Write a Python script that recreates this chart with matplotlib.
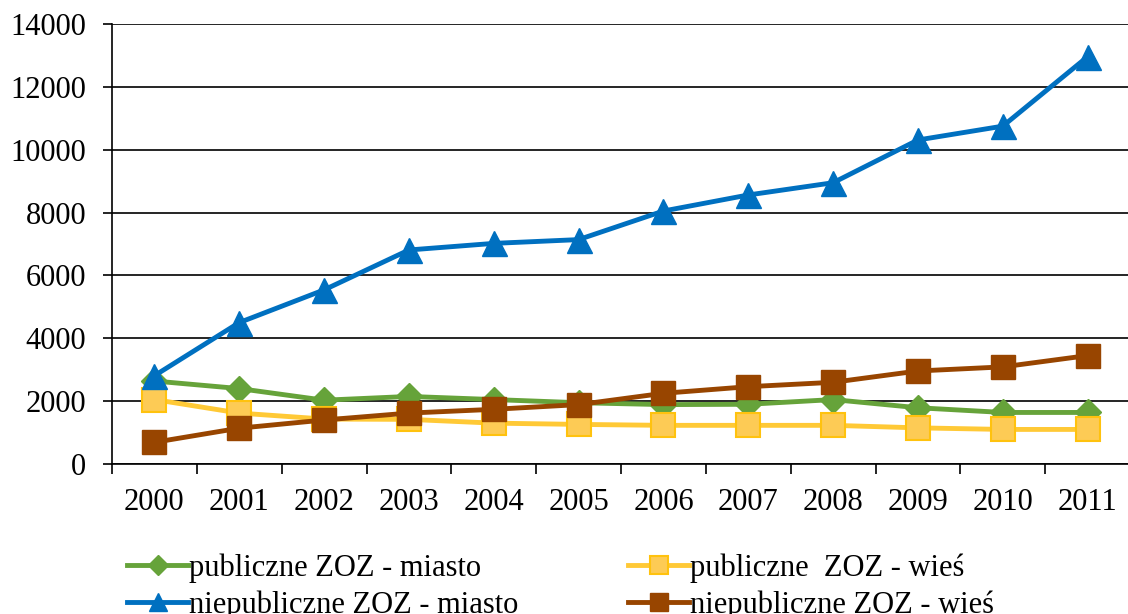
import matplotlib
matplotlib.use("Agg")
import matplotlib.pyplot as plt

# dane
years = ["2000", "2001", "2002", "2003", "2004", "2005",
         "2006", "2007", "2008", "2009", "2010", "2011"]
pub_miasto = [2640, 2400, 2030, 2150, 2050, 1950, 1890, 1900, 2050, 1790, 1640, 1640]
pub_wies = [2050, 1620, 1430, 1420, 1300, 1260, 1230, 1230, 1230, 1150, 1100, 1100]
niepub_miasto = [2810, 4500, 5540, 6810, 7020, 7140, 8050, 8560, 8950, 10310, 10750, 12960]
niepub_wies = [690, 1140, 1400, 1620, 1740, 1890, 2250, 2460, 2600, 2960, 3090, 3450]

plt.rcParams['font.family'] = ['Liberation Serif', 'DejaVu Serif']

fig = plt.figure(figsize=(11.28, 6.14), dpi=100)
ax = fig.add_axes([0.0993, 0.2443, 0.9025, 0.7166])

x = list(range(len(years)))
lw = 3.5
l1, = ax.plot(x, pub_miasto, color='#66A33A', lw=lw, marker='D', ms=13,
              label='publiczne ZOZ - miasto', zorder=3)
l2, = ax.plot(x, pub_wies, color='#FFC936', lw=lw, marker='s', ms=17,
              mfc='#FDCB55', mec='#FFC20E', mew=1.5,
              label='publiczne  ZOZ - wieś', zorder=4)
l3, = ax.plot(x, niepub_miasto, color='#0070C0', lw=lw, marker='^', ms=18,
              label='niepubliczne ZOZ - miasto', zorder=5)
l4, = ax.plot(x, niepub_wies, color='#984500', lw=lw, marker='s', ms=17,
              label='niepubliczne ZOZ - wieś', zorder=6)

ax.set_xlim(-0.5, len(years) - 0.5)
ax.set_ylim(0, 14000)
ax.set_yticks(range(0, 14001, 2000))
ax.yaxis.grid(True, color='black', lw=1.2)
ax.set_axisbelow(True)

ax.set_xticks([i - 0.5 for i in range(len(years) + 1)])
ax.set_xticklabels([])
ax.set_xticks(x, minor=True)
ax.set_xticklabels(years, minor=True)
ax.tick_params(axis='x', which='major', length=7, width=1.2, direction='out')
ax.tick_params(axis='x', which='minor', length=0, pad=17, labelsize=22)
ax.tick_params(axis='y', length=6.5, width=1.2, pad=12, labelsize=22)

for s in ['top', 'right']:
    ax.spines[s].set_visible(False)
for s in ['left', 'bottom']:
    ax.spines[s].set_linewidth(1.2)

fig.legend(handles=[l1, l3, l2, l4], ncol=2, loc='upper left',
           bbox_to_anchor=(0.1126, 0.099), frameon=False, fontsize=22,
           handlelength=2.0, handletextpad=0.02, columnspacing=3.6,
           labelspacing=0.25, borderaxespad=0, borderpad=0, markerscale=0.75)

fig.savefig('out.png', dpi=100)
